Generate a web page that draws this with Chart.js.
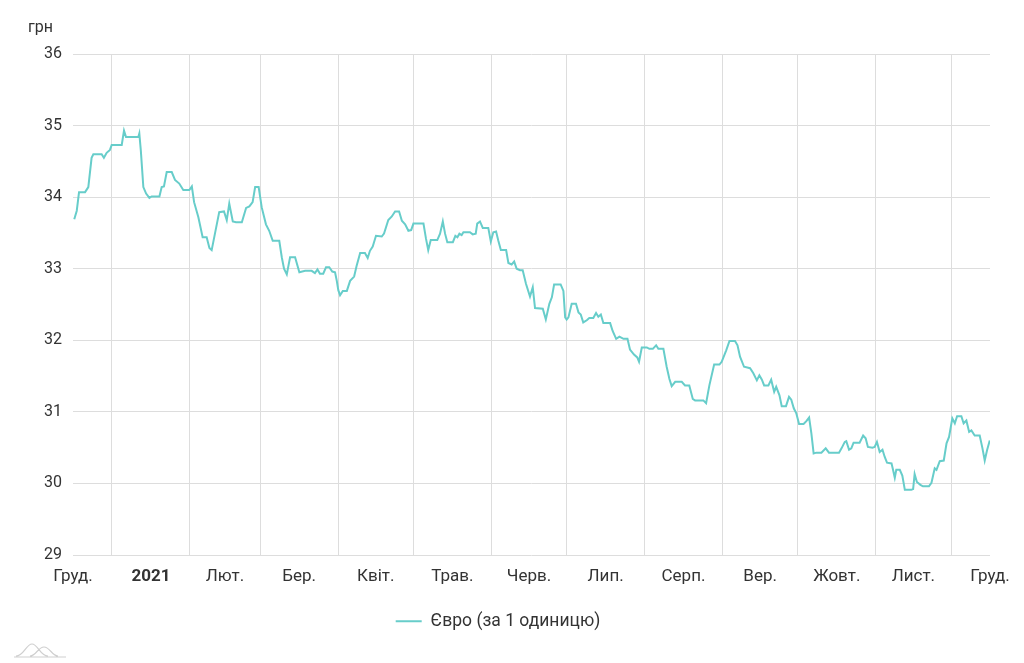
<!DOCTYPE html>
<html><head><meta charset="utf-8">
<script src="https://cdn.jsdelivr.net/npm/chart.js@4.4.0/dist/chart.umd.min.js"></script>
<style>html,body{margin:0;padding:0;background:#fff}</style>
</head><body>
<canvas id="c" width="1024" height="663"></canvas>
<script>
// day offset from 1 Jan 2021 (negative = December 2020)
const days = [-15.0,-14.0,-13.1,-10.7,-9.4,-8.1,-7.4,-4.1,-3.2,-2.1,-0.8,-0.1,3.9,4.8,5.6,10.5,10.9,11.5,12.5,13.6,14.9,15.8,18.9,19.8,20.7,21.8,23.8,25.1,26.8,28.4,
30.8,31.8,32.7,34.4,36.1,37.7,38.8,39.7,41.0,42.7,44.6,45.7,46.7,48.1,49.4,51.7,53.4,54.7,56.0,57.0,58.4,59.6,61.3,62.6,64.0,66.6,67.6,68.5,69.6,70.9,72.9,74.6,76.9,
79.5,80.8,81.8,82.8,84.1,85.2,86.5,87.7,88.8,89.5,90.1,90.8,91.9,93.5,94.8,96.4,97.4,98.8,100.7,101.8,102.7,103.8,105.1,107.4,108.3,110.0,111.4,112.7,114.3,115.4,116.7,118.0,119.1,120.0,123.3,
124.0,125.0,125.9,126.9,129.5,130.6,131.7,132.6,133.5,135.7,136.7,137.5,138.3,139.2,139.9,142.5,143.6,144.8,145.4,146.5,147.6,149.8,150.8,151.8,152.9,153.8,154.8,156.9,157.8,159.1,160.1,161.1,162.4,163.5,164.8,166.4,167.5,168.4,
171.5,172.7,174.1,175.1,176.0,178.6,179.7,180.4,181.0,181.7,183.0,184.7,185.7,186.6,187.6,189.0,190.0,191.6,192.7,193.6,194.6,195.6,198.3,199.3,200.7,202.0,203.6,205.2,206.2,207.8,209.1,209.8,210.9,212.9,213.9,215.3,216.6,217.5,219.5,
220.8,221.9,222.8,224.2,226.8,228.1,229.8,231.2,232.1,235.4,236.5,237.8,239.7,241.8,242.7,244.5,245.8,248.0,249.0,250.0,251.6,254.0,255.3,256.7,257.7,258.7,259.6,261.3,262.4,263.6,264.4,265.7,266.6,268.3,
269.5,270.4,271.4,272.4,273.5,275.3,276.4,277.5,278.4,279.3,280.4,282.4,284.1,285.4,289.4,290.4,291.7,292.3,293.4,294.3,295.2,297.6,299.0,300.0,300.9,302.7,303.6,304.5,305.6,306.7,307.6,308.5,310.3,310.9,311.6,312.2,313.6,314.6,315.6,318.2,318.9,319.5,320.4,321.8,322.8,325.2,326.2,327.5,328.2,329.5,331.1,332.2,333.2,334.5,335.5,336.4,338.1,339.0,340.1,341.2,342.1,343.4,345.4,346.5,347.4,348.3,349.4];
const rates = [33.69,33.81,34.07,34.07,34.14,34.55,34.60,34.60,34.55,34.62,34.66,34.73,34.73,34.93,34.84,34.84,34.89,34.65,34.14,34.05,33.99,34.01,34.01,34.14,34.15,34.35,34.35,34.24,34.19,34.10,
34.10,34.15,33.93,33.72,33.44,33.44,33.29,33.26,33.49,33.79,33.80,33.68,33.91,33.66,33.65,33.65,33.85,33.87,33.93,34.14,34.14,33.86,33.62,33.53,33.39,33.39,33.16,33.00,32.92,33.16,33.16,32.95,32.97,
32.97,32.94,32.99,32.93,32.93,33.02,33.02,32.96,32.95,32.83,32.70,32.63,32.69,32.69,32.83,32.89,33.04,33.22,33.22,33.15,33.25,33.31,33.46,33.45,33.49,33.68,33.73,33.80,33.80,33.67,33.62,33.53,33.54,33.63,33.63,
33.63,33.42,33.26,33.40,33.40,33.49,33.66,33.49,33.37,33.37,33.46,33.44,33.49,33.47,33.51,33.51,33.48,33.49,33.63,33.66,33.57,33.57,33.38,33.51,33.52,33.39,33.26,33.26,33.08,33.06,33.10,33.00,32.98,32.98,32.79,32.61,32.74,32.45,
32.44,32.29,32.51,32.60,32.78,32.78,32.69,32.32,32.29,32.32,32.51,32.51,32.39,32.36,32.25,32.28,32.31,32.31,32.38,32.33,32.36,32.24,32.24,32.13,32.02,32.05,32.02,32.02,31.87,31.80,31.76,31.70,31.90,31.90,31.88,31.88,31.93,31.88,31.88,
31.63,31.46,31.36,31.42,31.42,31.37,31.37,31.18,31.16,31.16,31.12,31.37,31.66,31.66,31.70,31.86,31.99,31.99,31.93,31.77,31.63,31.61,31.54,31.44,31.51,31.45,31.37,31.37,31.45,31.28,31.35,31.23,31.08,31.08,
31.21,31.17,31.05,30.98,30.83,30.83,30.87,30.92,30.70,30.42,30.43,30.43,30.49,30.43,30.43,30.49,30.58,30.59,30.47,30.49,30.57,30.57,30.67,30.63,30.51,30.50,30.51,30.58,30.44,30.47,30.37,30.29,30.28,30.19,30.08,30.19,30.19,30.11,29.91,29.91,29.92,30.13,30.02,29.98,29.96,29.96,30.01,30.21,30.19,30.31,30.32,30.56,30.65,30.91,30.84,30.94,30.94,30.84,30.88,30.72,30.74,30.67,30.67,30.49,30.32,30.46,30.60];

const monthStarts = [0,31,59,90,120,151,181,212,243,273,304,334];
const labelDays = [-15.5,15.5,45,74.5,105,135.5,166,196.5,227.5,258,288.5,319,349.5];
const labelTexts = ['Груд.','2021','Лют.','Бер.','Квіт.','Трав.','Черв.','Лип.','Серп.','Вер.','Жовт.','Лист.','Груд.'];
const yTicks = [29,30,31,32,33,34,35,36];
const unitText = 'грн';
const seriesName = 'Євро (за 1 одиницю)';

const FONT = 'Roboto';
const TXT = '#333333';
const GRID = '#dddddd';
const LINE = '#67cdca';

const extras = {
  id: 'extras',
  afterDraw(chart) {
    const c = chart.ctx;
    c.save();
    c.font = '16px ' + FONT;
    c.fillStyle = TXT;
    c.textAlign = 'left';
    c.textBaseline = 'alphabetic';
    c.fillText(unitText, 28, 32);
    // small logo mark bottom-left
    c.strokeStyle = '#cfcfcf';
    c.lineWidth = 1.2;
    c.beginPath();
    c.moveTo(16, 656); c.bezierCurveTo(24, 656, 26, 644, 32, 644); c.bezierCurveTo(38, 644, 40, 656, 48, 656);
    c.moveTo(30, 656); c.bezierCurveTo(36, 656, 38, 647, 44, 647); c.bezierCurveTo(50, 647, 52, 656, 58, 656);
    c.moveTo(14, 657); c.lineTo(66, 657);
    c.stroke();
    c.restore();
  }
};

new Chart(document.getElementById('c'), {
  type: 'line',
  data: {
    datasets: [{
      label: seriesName,
      data: days.map((d, i) => ({x: d, y: rates[i]})),
      borderColor: LINE,
      backgroundColor: LINE,
      borderWidth: 2,
      pointRadius: 0,
      tension: 0,
      fill: false
    }]
  },
  options: {
    responsive: false,
    animation: false,
    layout: {padding: {left: 6, right: 34, top: 54, bottom: 23}},
    scales: {
      x: {
        type: 'linear',
        min: -15.5,
        max: 349.5,
        afterBuildTicks: (s) => {
          s.ticks = monthStarts.concat(labelDays).sort((a, b) => a - b).map(v => ({value: v}));
        },
        afterFit: (s) => { s.height = 47.5; },
        border: {display: false},
        grid: {
          drawTicks: false,
          color: (c) => (c.tick && monthStarts.includes(c.tick.value)) ? GRID : 'rgba(0,0,0,0)'
        },
        ticks: {
          autoSkip: false,
          maxRotation: 0,
          padding: 12,
          color: TXT,
          font: (c) => ({family: FONT, size: 17, weight: (c.tick && c.tick.value === 15.5) ? 'bold' : 'normal'}),
          callback: (v) => { const i = labelDays.indexOf(v); return i >= 0 ? labelTexts[i] : ''; }
        }
      },
      y: {
        min: 29,
        max: 36,
        afterBuildTicks: (s) => { s.ticks = yTicks.map(v => ({value: v})); },
        afterFit: (s) => { s.width = 67; },
        border: {display: false},
        grid: {drawTicks: false, color: GRID},
        ticks: {padding: 11, color: TXT, font: {family: FONT, size: 16}}
      }
    },
    plugins: {
      legend: {
        position: 'bottom',
        labels: {usePointStyle: true, pointStyle: 'line', pointStyleWidth: 26, color: TXT, font: {family: FONT, size: 17.5}, padding: 10}
      },
      tooltip: {enabled: false}
    }
  },
  plugins: [extras]
});
</script>
</body></html>
